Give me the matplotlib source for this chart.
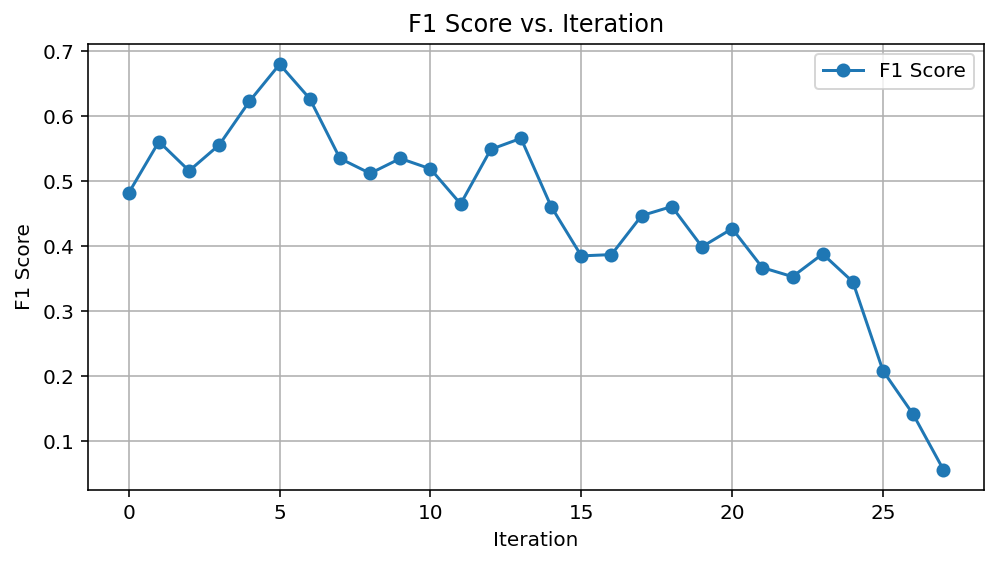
import matplotlib
matplotlib.use("Agg")
import matplotlib.pyplot as plt

# F1 score, one value per iteration
iterations = list(range(28))
f1_scores = [0.482, 0.561, 0.516, 0.556, 0.623, 0.680, 0.627, 0.535, 0.512, 0.535,
             0.519, 0.465, 0.549, 0.566, 0.461, 0.385, 0.387, 0.447, 0.461, 0.399,
             0.427, 0.367, 0.353, 0.388, 0.345, 0.208, 0.141, 0.056]

fig, ax = plt.subplots(figsize=(6.924, 3.924), dpi=144)
fig.subplots_adjust(left=0.0883, right=0.987, top=0.922, bottom=0.133)

ax.plot(iterations, f1_scores, marker='o', label='F1 Score')
ax.set_title('F1 Score vs. Iteration')
ax.set_xlabel('Iteration')
ax.set_ylabel('F1 Score')
ax.grid(True)
ax.legend()

fig.savefig('out.png')
